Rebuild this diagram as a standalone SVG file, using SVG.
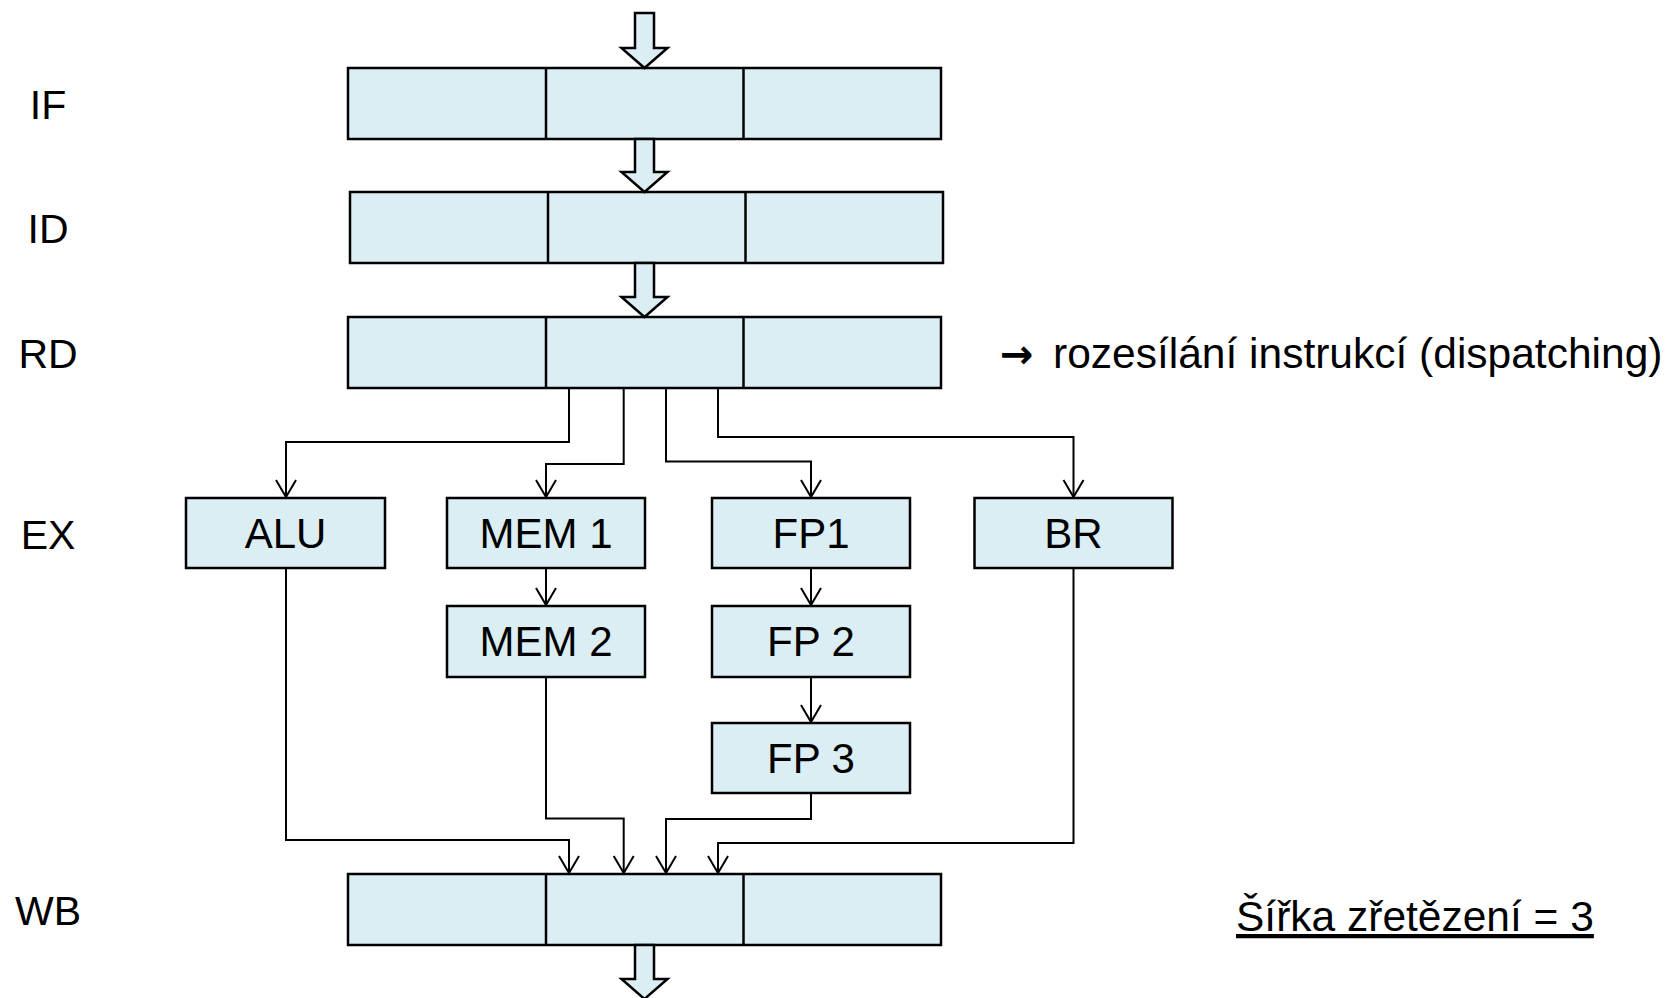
<svg xmlns="http://www.w3.org/2000/svg" width="1668" height="998" viewBox="0 0 1668 998">
<style>
.box{fill:#DAEEF3;stroke:#000;stroke-width:2.5}
.div{stroke:#000;stroke-width:2.5}
.blk{fill:#DAEEF3;stroke:#000;stroke-width:2.5;stroke-linejoin:miter}
.con{fill:none;stroke:#000;stroke-width:2;marker-end:url(#v)}
.lbl{font-family:"Liberation Sans",Arial,sans-serif;font-size:41px;fill:#000;text-anchor:middle}
.t{font-family:"Liberation Sans",Arial,sans-serif;font-size:42px;fill:#000;text-anchor:middle}
.n{font-family:"Liberation Sans",Arial,sans-serif;font-size:42.5px;fill:#000}
.ar{font-family:"DejaVu Sans",sans-serif;font-size:40px;font-weight:bold}
</style>
<defs>
<marker id="v" markerUnits="userSpaceOnUse" viewBox="-19 -12 21 24" markerWidth="21" markerHeight="24" refX="0" refY="0" orient="auto">
<path d="M-17,-10 L0,0 L-17,10" fill="none" stroke="#000" stroke-width="2"/>
</marker>
</defs>
<rect width="1668" height="998" fill="#fff"/>

<g id="connectors">
<path class="con" d="M569,388 V442 H286 V497"/>
<path class="con" d="M623.7,388 V464 H546 V497"/>
<path class="con" d="M666,388 V461.5 H811 V497"/>
<path class="con" d="M718,388 V437 H1073.5 V497"/>
<path class="con" d="M546,568 V605"/>
<path class="con" d="M811,568 V605"/>
<path class="con" d="M811,677 V722"/>
<path class="con" d="M286,568 V840 H569 V873"/>
<path class="con" d="M546,677 V818.5 H623.7 V873"/>
<path class="con" d="M811,793 V819 H666 V873"/>
<path class="con" d="M1073.5,568 V843 H718 V873"/>
</g>

<g id="IF">
<rect class="box" x="348" y="68" width="593" height="71"/>
<line class="div" x1="546" y1="68" x2="546" y2="139"/>
<line class="div" x1="743.5" y1="68" x2="743.5" y2="139"/>
<text class="lbl" x="48" y="119">IF</text>
</g>
<g id="ID">
<rect class="box" x="350" y="192" width="593" height="71"/>
<line class="div" x1="548" y1="192" x2="548" y2="263"/>
<line class="div" x1="745.5" y1="192" x2="745.5" y2="263"/>
<text class="lbl" x="48" y="243">ID</text>
</g>
<g id="RD">
<rect class="box" x="348" y="317" width="593" height="71"/>
<line class="div" x1="546" y1="317" x2="546" y2="388"/>
<line class="div" x1="743.5" y1="317" x2="743.5" y2="388"/>
<text class="lbl" x="48" y="368">RD</text>
</g>
<g id="WB">
<rect class="box" x="348" y="874" width="593" height="71"/>
<line class="div" x1="546" y1="874" x2="546" y2="945"/>
<line class="div" x1="743.5" y1="874" x2="743.5" y2="945"/>
<text class="lbl" x="48" y="925">WB</text>
</g>
<g id="EX-label">
<text class="lbl" x="48" y="549">EX</text>
</g>

<g id="in-arrow"><path class="blk" d="M635,13 H654 V48 H667.5 L644.5,68 L621.5,48 H635 Z"/></g>
<g id="if-id-arrow"><path class="blk" d="M635,139 H654 V172 H667.5 L644.5,192 L621.5,172 H635 Z"/></g>
<g id="id-rd-arrow"><path class="blk" d="M635,263 H654 V297 H667.5 L644.5,317 L621.5,297 H635 Z"/></g>
<g id="out-arrow"><path class="blk" d="M635,945 H654 V979 H667.5 L644.5,999 L621.5,979 H635 Z"/></g>

<g id="ALU">
<rect class="box" x="186" y="498" width="199" height="70"/>
<text class="t" x="285.5" y="548">ALU</text>
</g>
<g id="MEM1">
<rect class="box" x="447" y="498" width="198" height="70"/>
<text class="t" x="546" y="548">MEM 1</text>
</g>
<g id="FP1">
<rect class="box" x="712" y="498" width="198" height="70"/>
<text class="t" x="811" y="548">FP1</text>
</g>
<g id="BR">
<rect class="box" x="974.5" y="498" width="198" height="70"/>
<text class="t" x="1073.5" y="548">BR</text>
</g>
<g id="MEM2">
<rect class="box" x="447" y="606" width="198" height="71"/>
<text class="t" x="546" y="656">MEM 2</text>
</g>
<g id="FP2">
<rect class="box" x="712" y="606" width="198" height="71"/>
<text class="t" x="811" y="656">FP 2</text>
</g>
<g id="FP3">
<rect class="box" x="712" y="723" width="198" height="70"/>
<text class="t" x="811" y="773">FP 3</text>
</g>

<g id="notes">
<text class="n" y="368"><tspan class="ar" x="1000">→</tspan><tspan x="1053">rozesílání instrukcí (dispatching)</tspan></text>
<text class="n" x="1236" y="931" text-decoration="underline">Šířka zřetězení = 3</text>
</g>
</svg>
